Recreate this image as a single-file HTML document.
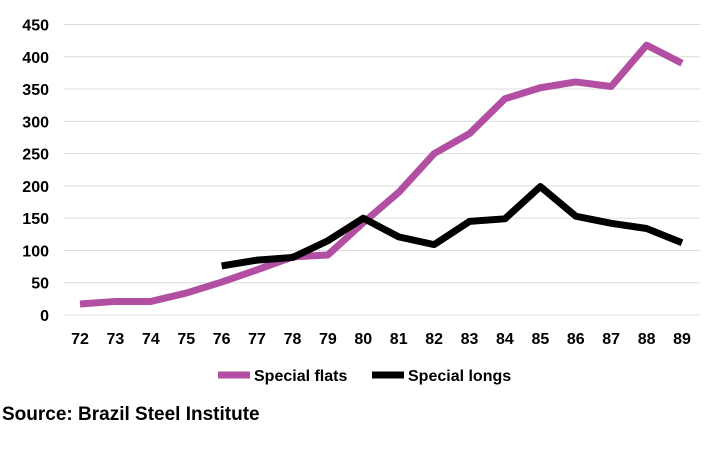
<!DOCTYPE html>
<html><head><meta charset="utf-8"><style>
body{margin:0;background:#fff;}
svg text{font-family:"Liberation Sans",Arial,sans-serif;font-weight:bold;}
</style></head><body>
<svg id="chart" width="716" height="457" xmlns="http://www.w3.org/2000/svg">
<g id="grid"></g><g id="yt"></g><g id="xt"></g><g id="series"></g>
<g>
<line x1="218" y1="375" x2="250" y2="375" stroke="#B24FA3" stroke-width="7"/>
<text x="254" y="381" font-size="16">Special flats</text>
<line x1="372" y1="375" x2="404" y2="375" stroke="#000" stroke-width="7"/>
<text x="408" y="381" font-size="16">Special longs</text>
</g>
<text x="2" y="420" font-size="19">Source: Brazil Steel Institute</text>
</svg>
<script>
const years=["72","73","74","75","76","77","78","79","80","81","82","83","84","85","86","87","88","89"];
const flats=[17,21,21,34,51,70,90,93,143,190,250,281,335,352,361,354,418,390];
const longs=[null,null,null,null,76,85,89,115,150,121,109,145,149,199,153,142,134,112];
const yTicks=[0,50,100,150,200,250,300,350,400,450];
const NS="http://www.w3.org/2000/svg";
const y=v=>315-v*(315-24.5)/450;
const x=i=>80+i*(682-80)/17;
function mk(t,a,p){const e=document.createElementNS(NS,t);for(const k in a)e.setAttribute(k,a[k]);document.getElementById(p).appendChild(e);return e;}
yTicks.forEach(v=>{
 const l=mk('line',{x1:64,x2:700,y1:y(v),y2:y(v),stroke:'#dcdcdc','stroke-width':1},'grid');
 
 
 const t=mk('text',{x:49,y:y(v)+6,'text-anchor':'end','font-size':16},'yt');t.textContent=v;
 
 
});
years.forEach((yr,i)=>{
 const t=mk('text',{x:x(i),y:344,'text-anchor':'middle','font-size':16},'xt');t.textContent=yr;
 
 
});
function line(d,c,n){
 const pts=[];d.forEach((v,i)=>{if(v!==null)pts.push(x(i)+','+y(v));});
 const p=mk('polyline',{points:pts.join(' '),fill:'none',stroke:c,'stroke-width':7,'stroke-linejoin':'round'},'series');
 
 
}
line(flats,'#B24FA3','special-flats-line');
line(longs,'#000','special-longs-line');
</script>
</body></html>
